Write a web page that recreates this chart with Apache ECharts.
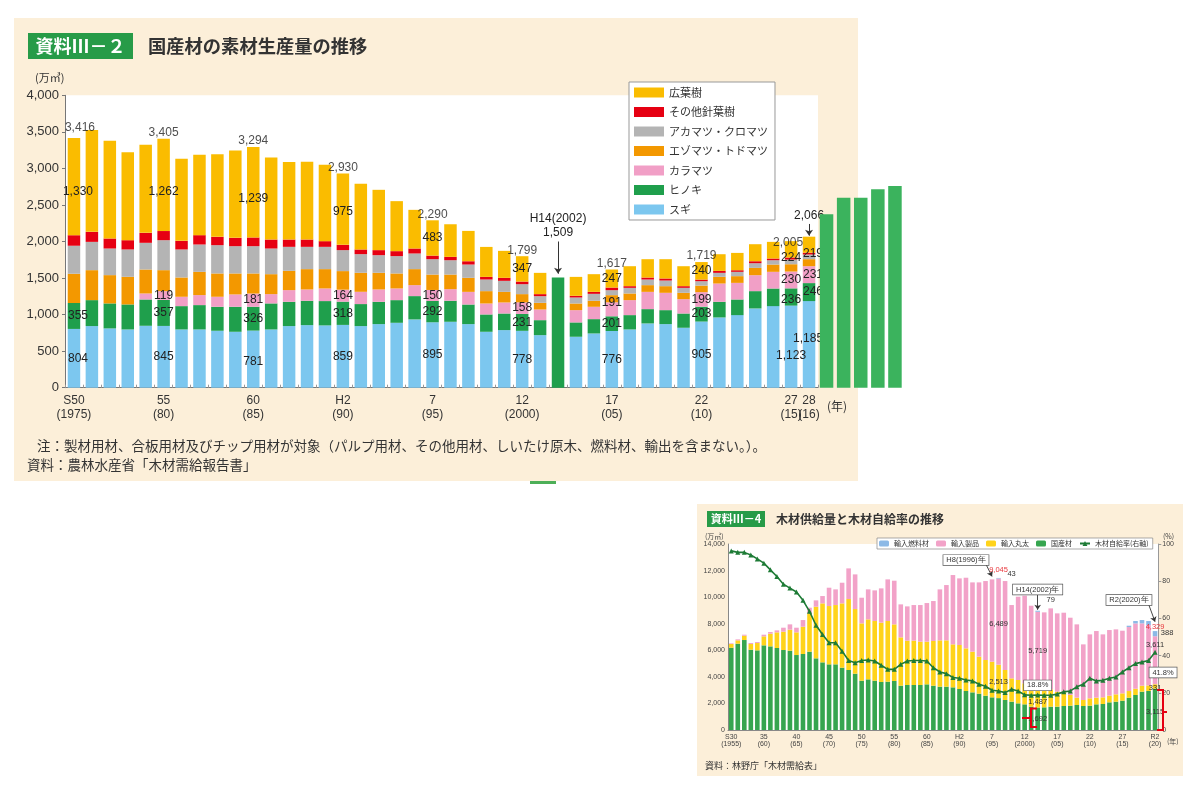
<!DOCTYPE html>
<html>
<head>
<meta charset="utf-8">
<script src="https://cdn.jsdelivr.net/npm/echarts@6/dist/echarts.min.js"></script>
<style>
html, body { margin: 0; padding: 0; background: #fff; }
#main { width: 1200px; height: 795px; }
</style>
</head>
<body>
<div id="main"></div>
<script>
// 資料Ⅲ－2 国産材の素材生産量の推移（万㎥）
const years = ['1975','1976','1977','1978','1979','1980','1981','1982','1983','1984',
  '1985','1986','1987','1988','1989','1990','1991','1992','1993','1994',
  '1995','1996','1997','1998','1999','2000','2001','2002','2003','2004',
  '2005','2006','2007','2008','2009','2010','2011','2012','2013','2014',
  '2015','2016'];
const sugi = [804,843,811,797,847,845,797,797,779,765, 781,797,843,856,852,859,843,870,888,934,
  895,902,870,765,788,778,719,0,697,742, 776,797,879,870,820,905,961,993,1084,1116, 1123,1185];
const hinoki = [355,355,342,342,360,357,319,333,328,342, 326,356,332,333,333,318,301,305,310,319,
  292,287,268,237,227,231,205,1509,196,196, 201,196,196,191,195,203,214,214,237,241, 236,246];
const karamatsu = [0,0,0,0,82,119,128,137,137,169, 181,127,160,155,173,164,168,169,160,150,
  150,159,173,150,151,158,146,0,168,169, 191,205,236,237,196,199,250,227,218,228, 230,231];
const ezomatsu = [400,410,387,378,328,287,264,318,319,287, 275,273,264,278,264,254,260,228,205,219,
  211,200,192,169,145,113,91,0,91,82, 98,91,92,91,87,90,92,92,100,100, 100,96];
const akamatsu = [383,387,364,374,365,410,383,374,387,373, 373,351,328,305,305,287,255,241,237,214,
  210,196,182,159,151,136,91,0,82,95, 68,77,77,77,68,60,54,59,64,59, 64,64];
const sonota = [144,137,137,127,136,125,118,128,114,114, 119,123,100,100,78,73,64,69,68,68,
  49,46,45,36,41,36,28,0,23,27, 36,23,27,28,23,22,27,22,27,23, 28,25];
const kouyouju = [1330,1393,1338,1202,1206,1262,1122,1099,1131,1195, 1239,1123,1060,1064,1045,975,899,825,684,529,
  483,446,415,410,369,347,291,0,259,242, 247,273,251,264,273,240,228,237,233,228, 224,219];
const labelYears = ['1975','1980','1985','1990','1995','2000','2005','2010','2015','2016'];
const xTickLabels = {'1975':'S50\n(1975)','1980':'55\n(80)','1985':'60\n(85)','1990':'H2\n(90)','1995':'7\n(95)',
  '2000':'12\n(2000)','2005':'17\n(05)','2010':'22\n(10)','2015':'27\n(15)','2016':'28\n(16)'};
// 右にはみ出した緑の棒
const extraYears = ['2017','2018','2019','2020','2021'];
const extraValues = [2373,2600,2600,2714,2760];

// 資料Ⅲ－4 木材供給量と木材自給率の推移
const years2 = ['1955','1956','1957','1958','1959','1960','1961','1962','1963','1964',
  '1965','1966','1967','1968','1969','1970','1971','1972','1973','1974',
  '1975','1976','1977','1978','1979','1980','1981','1982','1983','1984',
  '1985','1986','1987','1988','1989','1990','1991','1992','1993','1994',
  '1995','1996','1997','1998','1999','2000','2001','2002','2003','2004',
  '2005','2006','2007','2008','2009','2010','2011','2012','2013','2014',
  '2015','2016','2017','2018','2019','2020'];
const domestic = [6195,6496,6772,6045,5995,6371,6295,6170,6020,5969, 5643,5719,5894,5393,5092,4941,4941,4690,4515,4239,
  3712,3812,3712,3612,3637,3687,3336,3386,3386,3386, 3436,3336,3261,3261,3210,3085,2935,2834,2734,2583,
  2458,2400,2257,2132,2006,1931,1756,1692,1706,1756, 1756,1806,1831,1881,1806,1831,1931,1956,2082,2132,
  2207,2433,2634,2884,2934,3115];
const importLogs = [276,251,326,426,551,677,953,1179,1379,1581, 1706,2056,2885,3887,4439,4389,4464,4841,5342,4866,
  4314,4515,4490,4464,4565,4264,3637,3336,3336,3261, 3211,3361,3486,3486,3236,3311,3210,3060,2784,2684,
  2684,2513,2258,1756,1756,1580,1630,1487,1304,1304, 1128,1078,803,552,451,552,502,502,501,552,
  552,500,470,450,420,331];
const importProducts = [49,75,75,75,75,125,126,150,301,401, 351,502,426,477,552,1380,1180,1555,2308,2608,
  1931,2258,2307,2584,3135,3286,2483,2583,2683,2758, 2909,3010,3838,4163,5217,5016,5317,5217,5593,5945,
  6195,6489,6697,5517,6271,6597,5969,5719,5844,6095, 5895,5945,5818,5518,4189,4815,5016,4740,4941,4891,
  4715,4817,4918,4693,4548,3611];
const importFuel = [0,0,0,0,0,0,0,0,0,0, 0,0,0,0,0,0,0,0,0,0,
  0,0,0,0,0,0,0,0,0,0, 0,0,0,0,0,0,0,0,0,0,
  0,43,0,0,0,0,0,79,0,0, 0,0,0,0,0,0,0,0,0,0,
  0,100,180,250,300,388];
const selfRate = [96.3,95.5,95.5,94.1,92.0,89.7,86.1,82.5,78.4,76.3, 74.2,69.7,63.8,56.3,51.3,46.9,46.9,42.4,37.4,36.2,
  37.4,37.6,37.1,34.8,32.6,32.6,35.3,37.1,37.4,37.4, 37.1,33.5,31.2,30.3,28.2,27.8,26.9,26.4,24.6,23.5,
  21.4,21.0,20.1,21.9,21.0,18.9,18.7,18.8,18.7,18.7, 19.3,20.5,21.0,23.2,24.6,27.8,26.4,26.7,27.8,28.5,
  31.2,33.5,35.7,36.5,37.4,41.8];
const xTickLabels2 = {'1955':'S30\n(1955)','1960':'35\n(60)','1965':'40\n(65)','1970':'45\n(70)','1975':'50\n(75)',
  '1980':'55\n(80)','1985':'60\n(85)','1990':'H2\n(90)','1995':'7\n(95)','2000':'12\n(2000)',
  '2005':'17\n(05)','2010':'22\n(10)','2015':'27\n(15)','2020':'R2\n(20)'};

const fmt = v => v.toLocaleString('en-US');
const JP = "'Noto Sans CJK JP', sans-serif";
const NUM = "'Liberation Sans', Arial, sans-serif";
const BEIGE = '#fcefd9';

const mainNames = ['スギ','ヒノキ','カラマツ','エゾマツ・トドマツ','アカマツ・クロマツ','その他針葉樹','広葉樹'];
const mainColors = ['#7cc7ef','#1f9f4c','#f19fc6','#f39800','#b4b4b4','#e60012','#fabc00'];
const mainValues = [sugi, hinoki, karamatsu, ezomatsu, akamatsu, sonota, kouyouju];
const labelledSeries = ['スギ','ヒノキ','カラマツ','広葉樹'];
// ラベルの微調整（px）
const nudge = {
  '1975': [4, 0], '1975|広葉樹': [4, 5], '1980|広葉樹': [0, 7], '1985|広葉樹': [0, 6], '1985|スギ': [0, 3],
  '1990|広葉樹': [0, 3], '2005|カラマツ': [0, -7],
  '2015|広葉樹': [0, 8], '2015|ヒノキ': [0, 3], '2015|スギ': [0, 9],
  '2016': [4, 0], '2016|広葉樹': [4, 9], '2016|スギ': [-1, -6]
};
const totalNudge = { '1975': [6, -4], '2015': [-3, 8] };

const totals = years.map((y, j) => mainValues.reduce((s, arr) => s + arr[j], 0));

const mainSeries = mainNames.map((name, i) => ({
  name: name,
  type: 'bar',
  stack: 'prod',
  xAxisIndex: 0,
  yAxisIndex: 0,
  barWidth: 12.5,
  itemStyle: { color: mainColors[i] },
  label: { show: false, position: 'inside', fontSize: 12, color: '#222', fontFamily: NUM, formatter: p => fmt(p.value) },
  data: years.map((y, j) => {
    const v = mainValues[i][j];
    const show = labelYears.includes(y) && labelledSeries.includes(name) && v > 0 && y !== '2002';
    return show
      ? { value: v, label: { show: true, offset: nudge[y + '|' + name] || nudge[y] || [0, 0] } }
      : v;
  })
}));

// H14(2002) と 2016 の矢印・注記
mainSeries[1].markLine = {
  silent: true,
  z: 3,
  symbol: ['none', 'arrow'],
  symbolSize: 6,
  label: { show: false },
  lineStyle: { color: '#333', width: 1, type: 'solid' },
  data: [
    [{ coord: ['2002', 2000] }, { coord: ['2002', 1560] }],
    [{ coord: ['2016', 2240] }, { coord: ['2016', 2080] }]
  ]
};
mainSeries[1].markPoint = {
  silent: true,
  z: 3,
  symbol: 'circle',
  symbolSize: 0,
  label: { show: true, position: 'top', distance: 1, fontSize: 12, lineHeight: 14, color: '#222', fontFamily: NUM },
  data: [
    { coord: ['2002', 2010], label: { formatter: 'H14(2002)\n' + fmt(totals[years.indexOf('2002')]) } },
    { coord: ['2016', 2240], label: { formatter: fmt(totals[years.indexOf('2016')]) } }
  ]
};

const totalSeries = {
  name: 'total',
  type: 'scatter',
  xAxisIndex: 0,
  yAxisIndex: 0,
  symbolSize: 0,
  silent: true,
  label: { show: true, position: 'top', distance: 0, fontSize: 12, color: '#222', fontFamily: NUM,
    formatter: p => fmt(p.value[1]) },
  data: labelYears.filter(y => y !== '2016').map(y => ({
    value: [y, totals[years.indexOf(y)]],
    label: { offset: totalNudge[y] || [0, 0] }
  }))
};

const extraSeries = {
  name: 'extra',
  type: 'bar',
  xAxisIndex: 1,
  yAxisIndex: 1,
  barWidth: 13.5,
  z: 10,
  itemStyle: { color: '#3bb35d' },
  data: extraValues
};

// 資料Ⅲ－4
const boxLabel = { backgroundColor: '#fff', borderColor: '#555', borderWidth: 0.7, padding: [1, 3] };
const note2 = [
  { coord: ['1991', 12790], label: Object.assign({ formatter: 'H8(1996)年' }, boxLabel) },
  { coord: ['1996', 12040], label: { formatter: '9,045', color: '#e8383d' } },
  { coord: ['1998', 11740], label: { formatter: '43' } },
  { coord: ['2002', 10570], label: Object.assign({ formatter: 'H14(2002)年' }, boxLabel) },
  { coord: ['2004', 9780], label: { formatter: '79' } },
  { coord: ['2016', 9780], label: Object.assign({ formatter: 'R2(2020)年' }, boxLabel) },
  { coord: ['2020', 7770], label: { formatter: '4,329', color: '#e8383d' } },
  { coord: ['2020', 7320], label: { formatter: '388', offset: [12, 0] } },
  { coord: ['2020', 6400], label: { formatter: '3,611' } },
  { coord: ['2020', 4330], label: Object.assign({ formatter: '41.8%', offset: [8, 0] }, boxLabel) },
  { coord: ['2020', 3180], label: { formatter: '331' } },
  { coord: ['2020', 1380], label: { formatter: '3,115' } },
  { coord: ['2002', 3360], label: Object.assign({ formatter: '18.8%' }, boxLabel) },
  { coord: ['2002', 2130], label: { formatter: '1,487' } },
  { coord: ['2002', 830], label: { formatter: '1,692' } },
  { coord: ['1996', 7950], label: { formatter: '6,489' } },
  { coord: ['2002', 5970], label: { formatter: '5,719' } },
  { coord: ['1996', 3630], label: { formatter: '2,513' } }
];

const series2 = [
  { name: '国産材', type: 'bar', stack: 'supply', xAxisIndex: 2, yAxisIndex: 2, barWidth: 4.6,
    itemStyle: { color: '#36a54f' }, data: domestic,
    markPoint: {
      silent: true, symbol: 'circle', symbolSize: 0,
      label: { show: true, position: 'inside', fontSize: 7.5, color: '#333', fontFamily: NUM },
      data: note2
    },
    markLine: {
      silent: true, symbol: ['none', 'arrow'], symbolSize: 5, label: { show: false },
      lineStyle: { color: '#333', width: 0.9, type: 'solid' },
      data: [
        [{ coord: ['1994', 12540] }, { coord: ['1995', 11560] }],
        [{ coord: ['2002', 10270] }, { coord: ['2002', 9050] }],
        [{ coord: ['2019', 9480] }, { coord: ['2020', 8150] }]
      ]
    }
  },
  { name: '輸入丸太', type: 'bar', stack: 'supply', xAxisIndex: 2, yAxisIndex: 2, barWidth: 4.6,
    itemStyle: { color: '#ffd31a' }, data: importLogs },
  { name: '輸入製品', type: 'bar', stack: 'supply', xAxisIndex: 2, yAxisIndex: 2, barWidth: 4.6,
    itemStyle: { color: '#f2a2c8' }, data: importProducts },
  { name: '輸入燃料材', type: 'bar', stack: 'supply', xAxisIndex: 2, yAxisIndex: 2, barWidth: 4.6,
    itemStyle: { color: '#8cb9e6' }, data: importFuel },
  { name: '木材自給率(右軸)', type: 'line', xAxisIndex: 2, yAxisIndex: 3, z: 6,
    symbol: 'triangle', symbolSize: 5, showAllSymbol: true,
    lineStyle: { color: '#1e7b36', width: 1.6 }, itemStyle: { color: '#1e7b36' },
    data: selfRate }
];

const bracketStyle = { stroke: '#e60012', lineWidth: 2, fill: 'none' };

const chart = echarts.init(document.getElementById('main'));
chart.setOption({
  animation: false,
  backgroundColor: '#fff',
  textStyle: { fontFamily: JP },
  graphic: [
    { type: 'rect', z: -10, shape: { x: 14, y: 18, width: 844, height: 463 }, style: { fill: BEIGE } },
    { type: 'rect', z: -10, shape: { x: 697, y: 504, width: 486, height: 272 }, style: { fill: BEIGE } },
    { type: 'rect', z: -10, shape: { x: 530, y: 481, width: 26, height: 3 }, style: { fill: '#4daf58' } },
    // タイトル
    { type: 'rect', shape: { x: 28, y: 33, width: 105, height: 26 }, style: { fill: '#279b48' } },
    { type: 'text', x: 80.5, y: 46, style: { text: '資料Ⅲ－２', fill: '#fff', font: 'bold 18px ' + JP, align: 'center', verticalAlign: 'middle' } },
    { type: 'text', x: 148, y: 46, style: { text: '国産材の素材生産量の推移', fill: '#333', font: 'bold 18.3px ' + JP, verticalAlign: 'middle' } },
    { type: 'text', x: 35, y: 78, style: { text: '(万㎥)', fill: '#333', font: '11px ' + JP, verticalAlign: 'middle' } },
    { type: 'text', x: 827, y: 406, style: { text: '(年)', fill: '#333', font: '12px ' + JP, verticalAlign: 'middle' } },
    { type: 'text', x: 37, y: 446, style: { text: '注：製材用材、合板用材及びチップ用材が対象（パルプ用材、その他用材、しいたけ原木、燃料材、輸出を含まない。）。', fill: '#333', font: '13.5px ' + JP, verticalAlign: 'middle' } },
    { type: 'text', x: 27, y: 465, style: { text: '資料：農林水産省「木材需給報告書」', fill: '#333', font: '13.5px ' + JP, verticalAlign: 'middle' } },
    // 資料Ⅲ－4
    { type: 'rect', shape: { x: 707, y: 511, width: 58, height: 16 }, style: { fill: '#279b48' } },
    { type: 'text', x: 736, y: 519, style: { text: '資料Ⅲ－4', fill: '#fff', font: 'bold 11px ' + JP, align: 'center', verticalAlign: 'middle' } },
    { type: 'text', x: 776, y: 519, style: { text: '木材供給量と木材自給率の推移', fill: '#333', font: 'bold 12px ' + JP, verticalAlign: 'middle' } },
    { type: 'text', x: 705, y: 536, style: { text: '(万㎥)', fill: '#444', font: '7px ' + JP, verticalAlign: 'middle' } },
    { type: 'text', x: 1163, y: 536, style: { text: '(%)', fill: '#444', font: '7px ' + JP, verticalAlign: 'middle' } },
    { type: 'text', x: 1167, y: 741, style: { text: '(年)', fill: '#444', font: '7px ' + JP, verticalAlign: 'middle' } },
    { type: 'text', x: 705, y: 766, style: { text: '資料：林野庁「木材需給表」', fill: '#333', font: '9px ' + JP, verticalAlign: 'middle' } },
    { type: 'polyline', z: 20, shape: { points: [[1037, 708.5], [1031, 708.5], [1031, 727], [1037, 727]] }, style: bracketStyle },
    { type: 'line', z: 20, shape: { x1: 1022, y1: 718, x2: 1031, y2: 718 }, style: bracketStyle },
    { type: 'polyline', z: 20, shape: { points: [[1157, 690], [1163, 690], [1163, 730], [1157, 730]] }, style: bracketStyle },
    { type: 'line', z: 20, shape: { x1: 1163, y1: 712, x2: 1167, y2: 712 }, style: bracketStyle }
  ],
  legend: [
    {
      data: ['広葉樹','その他針葉樹','アカマツ・クロマツ','エゾマツ・トドマツ','カラマツ','ヒノキ','スギ'],
      orient: 'vertical', left: 629, top: 82,
      itemWidth: 30, itemHeight: 10, itemGap: 8.5, icon: 'rect',
      padding: [5, 7, 5, 5], backgroundColor: '#fff', borderColor: '#999', borderWidth: 1,
      textStyle: { fontSize: 11, color: '#333', fontFamily: JP }
    },
    {
      data: ['輸入燃料材','輸入製品','輸入丸太','国産材','木材自給率(右軸)'],
      orient: 'horizontal', left: 877, top: 538,
      itemWidth: 10, itemHeight: 6, itemGap: 7,
      padding: [2, 4, 2, 2], backgroundColor: '#fff', borderColor: '#888', borderWidth: 0.7,
      textStyle: { fontSize: 7, color: '#333', fontFamily: JP }
    }
  ],
  grid: [
    { left: 65, top: 95.3, width: 753, height: 292.4, show: true, backgroundColor: '#fff', borderWidth: 0 },
    { left: 818, top: 95.3, width: 85.5, height: 292.4 },
    { left: 728, top: 544, width: 430.3, height: 186, show: true, backgroundColor: '#fff', borderWidth: 0 }
  ],
  xAxis: [
    {
      gridIndex: 0, type: 'category', data: years,
      axisLine: { lineStyle: { color: '#777' } },
      axisTick: { show: true, inside: true, length: 3, interval: 0, lineStyle: { color: '#999' } },
      axisLabel: { interval: 0, fontSize: 12, lineHeight: 14, color: '#333', margin: 6, fontFamily: NUM,
        formatter: v => xTickLabels[v] || '' }
    },
    { gridIndex: 1, type: 'category', data: extraYears, show: false },
    {
      gridIndex: 2, type: 'category', data: years2,
      axisLine: { lineStyle: { color: '#888' } },
      axisTick: { show: false },
      axisLabel: { interval: 0, fontSize: 7, lineHeight: 7.5, color: '#444', margin: 3, fontFamily: NUM,
        formatter: v => xTickLabels2[v] || '' }
    }
  ],
  yAxis: [
    {
      gridIndex: 0, type: 'value', min: 0, max: 4000, interval: 500,
      axisLine: { show: true, lineStyle: { color: '#777' } },
      axisTick: { show: true, length: 3, lineStyle: { color: '#777' } },
      splitLine: { show: false },
      axisLabel: { fontSize: 13, color: '#333', margin: 6, fontFamily: NUM, formatter: v => fmt(v) }
    },
    { gridIndex: 1, type: 'value', min: 0, max: 4000, show: false, splitLine: { show: false } },
    {
      gridIndex: 2, type: 'value', min: 0, max: 14000, interval: 2000,
      axisLine: { show: true, lineStyle: { color: '#888' } },
      axisTick: { show: false },
      splitLine: { show: false },
      axisLabel: { fontSize: 7, color: '#444', margin: 3, fontFamily: NUM, formatter: v => fmt(v) }
    },
    {
      gridIndex: 2, type: 'value', position: 'right', min: 0, max: 100, interval: 20,
      axisLine: { show: true, lineStyle: { color: '#999' } },
      axisTick: { show: true, length: 3, lineStyle: { color: '#999' } },
      splitLine: { show: false },
      axisLabel: { fontSize: 7, color: '#444', margin: 4, fontFamily: NUM }
    }
  ],
  series: [...mainSeries, totalSeries, extraSeries, ...series2]
});
</script>
</body>
</html>
